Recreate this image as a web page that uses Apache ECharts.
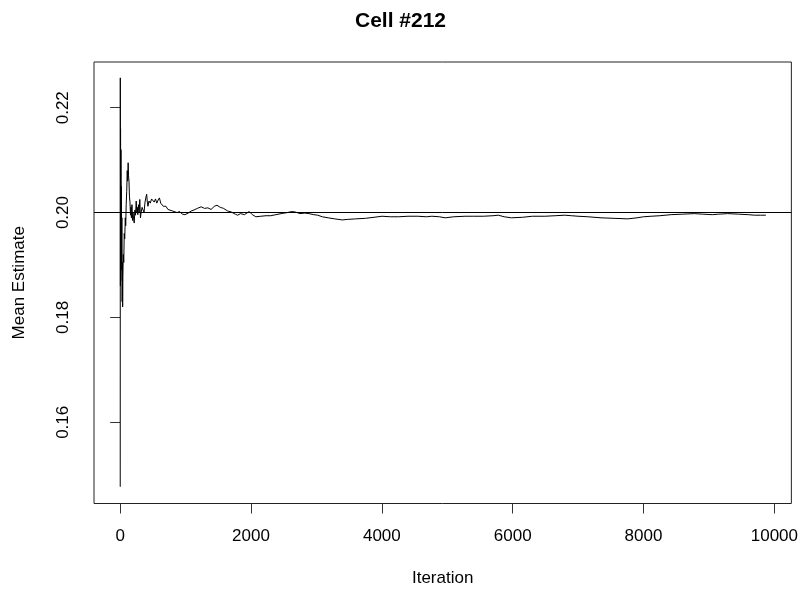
<!DOCTYPE html>
<html>
<head>
<meta charset="utf-8">
<script src="https://cdn.jsdelivr.net/npm/echarts@6/dist/echarts.min.js"></script>
<style>html,body{margin:0;padding:0;background:#fff}#c{width:801px;height:592px}</style>
</head>
<body>
<div id="c"></div>
<script>
const titleText = "Cell #212";
const xLabel = "Iteration";
const yLabel = "Mean Estimate";
const xTicks = [0, 2000, 4000, 6000, 8000, 10000];
const yTicks = [0.16, 0.18, 0.20, 0.22];
const refMean = 0.1996;

const iterations = [1,2,4,6,9,12,15,18,22,26,30,34,38,42,48,55,62,70,78,85,92,100,108,115,122,128,135,142,150,158,165,172,180,188,196,205,215,225,235,245,255,262,270,280,290,300,310,320,335,350,365,380,395,405,415,425,440,460,480,500,520,540,560,580,600,620,640,660,680,700,730,760,800,830,870,910,950,990,1010,1040,1085,1130,1180,1237,1290,1340,1390,1440,1480,1530,1580,1643,1700,1760,1795,1840,1900,1973,2020,2074,2150,2230,2303,2380,2460,2556,2620,2680,2750,2820,2886,2960,3020,3089,3180,3280,3394,3480,3600,3750,3880,4003,4130,4257,4400,4550,4680,4765,4880,4968,5100,5273,5400,5550,5700,5780,5870,5979,6150,6300,6492,6650,6797,6900,6999,7150,7350,7550,7761,7900,8000,8116,8250,8421,8600,8777,8900,9050,9150,9284,9450,9600,9700,9791,9870];
const means = [0.1477,0.2257,0.1860,0.2160,0.1870,0.2120,0.1890,0.2050,0.1900,0.1990,0.1830,0.1905,0.1820,0.1880,0.1920,0.1905,0.1960,0.1950,0.1990,0.1975,0.2015,0.2040,0.2080,0.2060,0.2095,0.2070,0.2060,0.2030,0.2020,0.1995,0.2010,0.1990,0.2015,0.1985,0.2000,0.1988,0.1980,0.2005,0.1995,0.2022,0.2000,0.2010,0.1996,0.2015,0.2000,0.2025,0.1990,0.2000,0.2010,0.2012,0.2000,0.2020,0.2030,0.2035,0.2020,0.2012,0.2022,0.2018,0.2026,0.2024,0.2020,0.2026,0.2018,0.2024,0.2028,0.2018,0.2020,0.2012,0.2010,0.2012,0.2006,0.2008,0.2003,0.2005,0.2000,0.2002,0.1997,0.1996,0.1994,0.1999,0.2003,0.2005,0.2008,0.2011,0.2008,0.2009,0.2006,0.2012,0.2014,0.2010,0.2008,0.2003,0.2001,0.1997,0.1995,0.1998,0.1996,0.2002,0.1996,0.1992,0.1993,0.1994,0.1994,0.1996,0.1998,0.2000,0.2002,0.2001,0.1998,0.1999,0.1998,0.1996,0.1995,0.1992,0.1990,0.1988,0.1986,0.1987,0.1988,0.1989,0.1991,0.1993,0.1992,0.1992,0.1993,0.1993,0.1992,0.1993,0.1992,0.1990,0.1992,0.1993,0.1993,0.1993,0.1994,0.1995,0.1992,0.1990,0.1991,0.1993,0.1993,0.1994,0.1995,0.1994,0.1993,0.1992,0.1990,0.1989,0.1988,0.1990,0.1992,0.1993,0.1994,0.1996,0.1997,0.1998,0.1997,0.1996,0.1997,0.1998,0.1997,0.1996,0.1995,0.1995,0.1995];

const FONT = "'Liberation Sans', Arial, sans-serif";
const chart = echarts.init(document.getElementById('c'), null, {renderer: 'canvas'});
chart.setOption({
  animation: false,
  backgroundColor: '#fff',
  title: {
    text: titleText, left: 'center', top: 6,
    textStyle: {fontFamily: FONT, fontSize: 21, fontWeight: 'bold', color: '#000'}
  },
  grid: {left: 94, top: 62, width: 699, height: 441.5, show: true, borderColor: '#222', borderWidth: 1, containLabel: false},
  xAxis: {
    type: 'value', min: -400, max: 10260,
    name: xLabel, nameLocation: 'middle', nameGap: 66,
    nameTextStyle: {fontFamily: FONT, fontSize: 17, color: '#000'},
    axisLine: {show: false},
    axisTick: {show: true, length: 10, lineStyle: {color: '#333'}, customValues: xTicks},
    axisLabel: {fontFamily: FONT, fontSize: 17, color: '#000', margin: 24, customValues: xTicks,
      formatter: v => String(Math.round(v))},
    splitLine: {show: false}
  },
  yAxis: {
    type: 'value', min: 0.14451, max: 0.22872,
    name: yLabel, nameLocation: 'middle', nameGap: 66, nameRotate: 90,
    nameTextStyle: {fontFamily: FONT, fontSize: 17, color: '#000'},
    axisLine: {show: false},
    axisTick: {show: true, length: 10, lineStyle: {color: '#333'}, customValues: yTicks},
    axisLabel: {fontFamily: FONT, fontSize: 17, color: '#000', margin: 22, rotate: 90,
      customValues: yTicks, formatter: v => v.toFixed(2)},
    splitLine: {show: false}
  },
  series: [{
    type: 'line',
    data: iterations.map((x, i) => [x, means[i]]),
    showSymbol: false,
    lineStyle: {color: '#000', width: 1},
    silent: true,
    markLine: {
      silent: true, symbol: 'none', label: {show: false},
      lineStyle: {color: '#000', width: 1, type: 'solid'},
      data: [{yAxis: refMean}]
    }
  }]
});
</script>
</body>
</html>
